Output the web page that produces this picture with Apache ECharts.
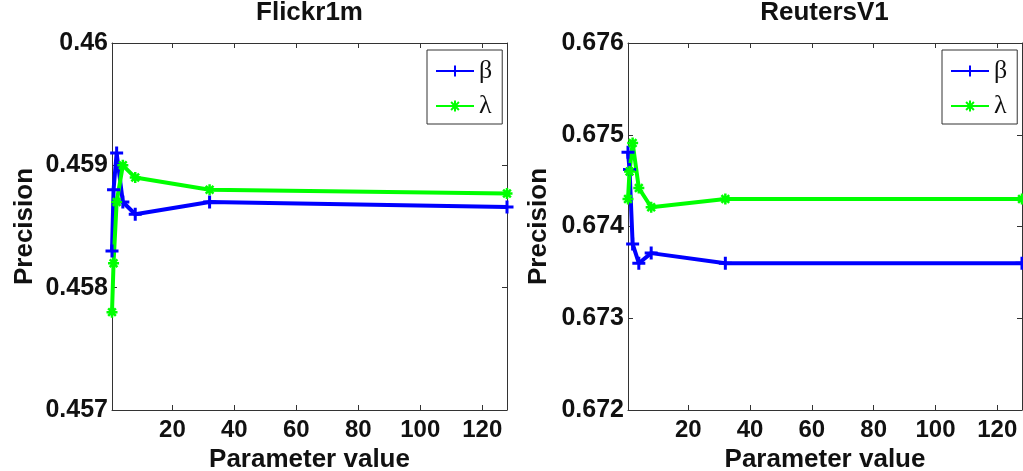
<!DOCTYPE html>
<html>
<head>
<meta charset="utf-8">
<script src="https://cdn.jsdelivr.net/npm/echarts@6/dist/echarts.min.js"></script>
<style>
html,body{margin:0;padding:0;background:#fff;}
#chart{width:1023px;height:471px;}
</style>
</head>
<body>
<div id="chart"></div>
<script>
// ---- data ----
const paramValues = [0.5, 1, 2, 4, 8, 32, 128];
const flickrBeta = [0.4583, 0.4588, 0.4591, 0.4587, 0.4586, 0.4587, 0.45866];
const flickrLambda = [0.4578, 0.4582, 0.4587, 0.4590, 0.4589, 0.4588, 0.45877];
const reutersBeta = [0.67481, 0.67462, 0.67381, 0.6736, 0.67371, 0.6736, 0.6736];
const reutersLambda = [0.6743, 0.6746, 0.67491, 0.67442, 0.67421, 0.6743, 0.6743];
const xTickValues = [20, 40, 60, 80, 100, 120];
const flickrYTicks = [0.457, 0.458, 0.459, 0.46];
const reutersYTicks = [0.672, 0.673, 0.674, 0.675, 0.676];
const titles = ['Flickr1m', 'ReutersV1'];
const seriesNames = ['β', 'λ'];

const pairs = (xs, ys) => xs.map((x, i) => [x, ys[i]]);

const FONT = "'Liberation Sans', Arial, sans-serif";
const SERIF = "'Liberation Serif', 'DejaVu Serif', serif";
const TXT = '#111';
const FRAME = '#333';
const PLUS = 'path://M0,5L10,5M5,0L5,10';
const STAR = 'path://M0,5L10,5M5,0L5,10M1.5,1.5L8.5,8.5M1.5,8.5L8.5,1.5';

const grids = [
  {left: 112, right: 516, top: 43, bottom: 61, outerBoundsMode: 'none', containLabel: false},
  {left: 628, right: 1, top: 43, bottom: 61, outerBoundsMode: 'none', containLabel: false}
];

function xAxes(gi) {
  const base = {
    type: 'value', gridIndex: gi, min: 0.5, max: 128,
    axisLine: {show: true, lineStyle: {color: FRAME, width: 1}},
    axisTick: {show: true, inside: true, length: 5, customValues: xTickValues, lineStyle: {color: FRAME}},
    splitLine: {show: false}
  };
  return [
    Object.assign({}, base, {
      position: 'bottom',
      axisLabel: {customValues: xTickValues, color: TXT, fontFamily: FONT, fontWeight: 'bold', fontSize: 24, margin: 8},
      name: 'Parameter value', nameLocation: 'middle', nameGap: 29,
      nameTextStyle: {color: TXT, fontFamily: FONT, fontWeight: 'bold', fontSize: 26}
    }),
    Object.assign({}, base, {position: 'top', axisLabel: {show: false}})
  ];
}

function yAxes(gi, ticks, gap) {
  const mn = ticks[0], mx = ticks[ticks.length - 1];
  const base = {
    type: 'value', gridIndex: gi, min: mn, max: mx, interval: 0.001,
    axisLine: {show: true, lineStyle: {color: FRAME, width: 1}},
    axisTick: {show: true, inside: true, length: 5, lineStyle: {color: FRAME}},
    splitLine: {show: false}
  };
  return [
    Object.assign({}, base, {
      position: 'left',
      axisLabel: {color: TXT, fontFamily: FONT, fontWeight: 'bold', fontSize: 25, margin: 4,
        formatter: v => String(parseFloat(v.toFixed(3)))},
      name: 'Precision', nameLocation: 'middle', nameGap: gap, nameRotate: 90,
      nameTextStyle: {color: TXT, fontFamily: FONT, fontWeight: 'bold', fontSize: 26}
    }),
    Object.assign({}, base, {position: 'right', axisLabel: {show: false}})
  ];
}

function mkSeries(name, data, gi, color, symbol, size, bw) {
  return {
    name: name, type: 'line', data: data,
    xAxisIndex: gi * 2, yAxisIndex: gi * 2,
    symbol: symbol, symbolSize: size, showAllSymbol: true,
    lineStyle: {color: color, width: 4},
    itemStyle: {color: color, borderColor: color, borderWidth: bw},
    emphasis: {disabled: true},
    animation: false, z: 3
  };
}

function mkLegend(left) {
  return {
    left: left, top: 50, orient: 'vertical',
    data: seriesNames,
    itemWidth: 38, itemHeight: 14, itemGap: 9,
    padding: [8, 10, 5, 8],
    borderColor: FRAME, borderWidth: 1,
    textStyle: {fontFamily: SERIF, fontSize: 26, lineHeight: 24, color: TXT},
    selectedMode: false
  };
}

const option = {
  backgroundColor: '#fff',
  animation: false,
  title: [
    {text: titles[0], left: 309.5, textAlign: 'center', top: 0, padding: 0,
     textStyle: {fontFamily: FONT, fontWeight: 'bold', fontSize: 26, color: TXT}},
    {text: titles[1], left: 824.5, textAlign: 'center', top: 0, padding: 0,
     textStyle: {fontFamily: FONT, fontWeight: 'bold', fontSize: 26, color: TXT}}
  ],
  legend: [mkLegend(427), mkLegend(942)],
  grid: grids,
  xAxis: [].concat(xAxes(0), xAxes(1)),
  yAxis: [].concat(yAxes(0, flickrYTicks, 74), yAxes(1, reutersYTicks, 76)),
  series: [
    mkSeries(seriesNames[0], pairs(paramValues, flickrBeta), 0, '#0000ff', PLUS, 13, 3),
    mkSeries(seriesNames[1], pairs(paramValues, flickrLambda), 0, '#00ff00', STAR, 11, 2.5),
    mkSeries(seriesNames[0], pairs(paramValues, reutersBeta), 1, '#0000ff', PLUS, 13, 3),
    mkSeries(seriesNames[1], pairs(paramValues, reutersLambda), 1, '#00ff00', STAR, 11, 2.5)
  ]
};
const chart = echarts.init(document.getElementById('chart'), null, {renderer: 'canvas'});
chart.setOption(option);
</script>
</body>
</html>
